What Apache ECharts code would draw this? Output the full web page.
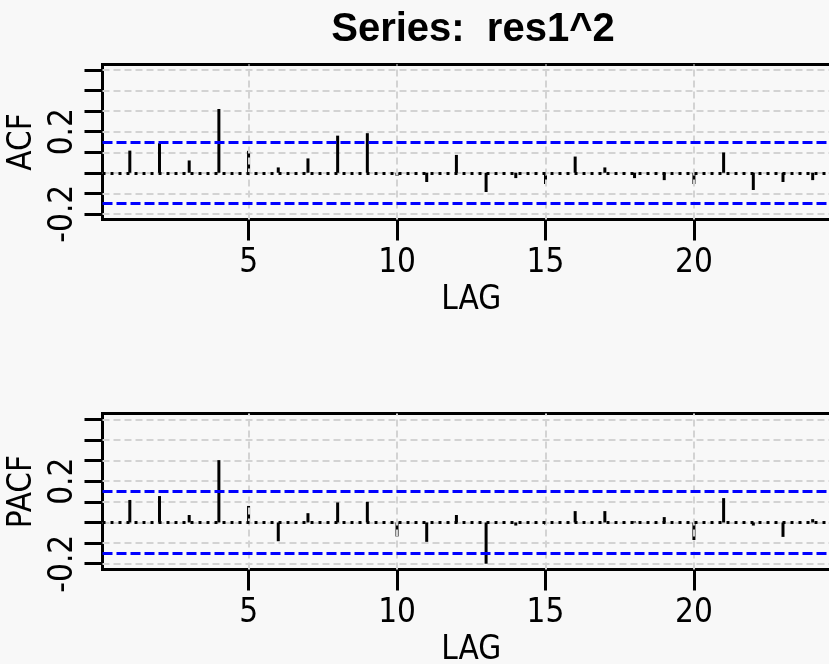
<!DOCTYPE html>
<html>
<head>
<meta charset="utf-8">
<script src="https://cdn.jsdelivr.net/npm/echarts@6/dist/echarts.min.js"></script>
<style>
html,body{margin:0;padding:0;background:#f8f8f8;}
#chart{width:829px;height:664px;}
</style>
</head>
<body>
<div id="chart"></div>
<script>
const titleText = 'Series:  res1^2';
const lags = [1,2,3,4,5,6,7,8,9,10,11,12,13,14,15,16,17,18,19,20,21,22,23,24];
const acfValues = [0.108,0.144,0.060,0.311,0.107,0.026,0.070,0.181,0.193,-0.015,-0.045,0.087,-0.094,-0.026,-0.055,0.079,0.026,-0.026,-0.036,-0.055,0.099,-0.084,-0.045,-0.036];
const pacfValues = [0.109,0.128,0.036,0.302,0.080,-0.091,0.045,0.097,0.100,-0.068,-0.094,0.036,-0.200,-0.015,-0.010,0.055,0.055,0.005,0.026,-0.085,0.118,-0.015,-0.070,0.016];
const yTicks = [-0.2,-0.1,0,0.1,0.2,0.3,0.4,0.5];
const yLabelValues = [-0.2,0.2];
const xTicks = [5,10,15,20];
const bounds = [0.15,-0.15];
const yRange = [-0.228,0.528];
const xRange = [0.08,24.92];
const axisLabelNames = ['ACF','PACF'];
const xName = 'LAG';

const FONT = '"Liberation Sans Narrow","DejaVu Sans Condensed","Liberation Sans",Arial,sans-serif';
const FS = 33;
const panels = [
  {top:64.5, height:155, values:acfValues, name:axisLabelNames[0]},
  {top:413.5, height:156, values:pacfValues, name:axisLabelNames[1]}
];

const grid=[], xAxis=[], yAxis=[], series=[];
panels.forEach((p,i)=>{
  grid.push({left:102.5, top:p.top, width:737.5, height:p.height, show:true, borderColor:'#000', borderWidth:3,
    backgroundColor:'transparent', containLabel:false, outerBoundsMode:'none'});
  xAxis.push({
    gridIndex:i, type:'value', min:xRange[0], max:xRange[1],
    axisLine:{show:false, onZero:false},
    axisTick:{show:true, length:21, lineStyle:{color:'#000', width:3}, customValues:xTicks},
    axisLabel:{customValues:xTicks, margin:27, fontSize:FS, fontFamily:FONT, color:'#000'},
    splitLine:{show:false},
    name:xName, nameLocation:'middle', nameGap:64,
    nameTextStyle:{fontSize:FS, fontFamily:FONT, color:'#000'}
  });
  yAxis.push({
    gridIndex:i, type:'value', min:yRange[0], max:yRange[1],
    axisLine:{show:false, onZero:false},
    axisTick:{show:true, length:18, lineStyle:{color:'#000', width:3}, customValues:yTicks},
    axisLabel:{customValues:yLabelValues, rotate:90, margin:23, fontSize:FS, fontFamily:FONT, color:'#000',
      formatter:v=>String(Math.round(v*10)/10)},
    splitLine:{show:false},
    name:p.name, nameLocation:'middle', nameRotate:90, nameGap:44,
    nameTextStyle:{fontSize:FS, fontFamily:FONT, color:'#000'}
  });
  series.push({
    type:'line', xAxisIndex:i, yAxisIndex:i, data:[], silent:true,
    markLine:{silent:true, symbol:['none','none'], z:1, animation:false, label:{show:false},
      lineStyle:{color:'#d3d3d3', width:2, type:[7,4]},
      data:yTicks.map(v=>({yAxis:v}))}
  });
  series.push({
    type:'bar', xAxisIndex:i, yAxisIndex:i, barWidth:3, z:3,
    itemStyle:{color:'#000'}, silent:true, animation:false,
    data:lags.map((l,k)=>[l,p.values[k]])
  });
  series.push({
    type:'line', xAxisIndex:i, yAxisIndex:i, data:[], silent:true,
    markLine:{silent:true, symbol:['none','none'], z:4, animation:false, label:{show:false},
      lineStyle:{color:'#d3d3d3', width:2, type:[7,4]},
      data:xTicks.map(v=>({xAxis:v}))}
  });
  series.push({
    type:'line', xAxisIndex:i, yAxisIndex:i, data:[], silent:true,
    markLine:{silent:true, symbol:['none','none'], z:5, animation:false, label:{show:false},
      lineStyle:{color:'#000', width:3, type:[3,5]},
      data:[{yAxis:0}]}
  });
  series.push({
    type:'line', xAxisIndex:i, yAxisIndex:i, data:[], silent:true,
    markLine:{silent:true, symbol:['none','none'], z:6, animation:false, label:{show:false},
      lineStyle:{color:'#0000ff', width:3, type:[10,4]},
      data:bounds.map(v=>({yAxis:v}))}
  });
});

const chart = echarts.init(document.getElementById('chart'), null, {renderer:'canvas'});
chart.setOption({
  backgroundColor:'#f8f8f8',
  animation:false,
  title:{text:titleText, left:468, top:5, textAlign:'center',
    textStyle:{fontSize:40, fontWeight:'bold', fontFamily:'"Liberation Sans",Arial,sans-serif', color:'#000'}},
  grid, xAxis, yAxis, series
});
</script>
</body>
</html>
